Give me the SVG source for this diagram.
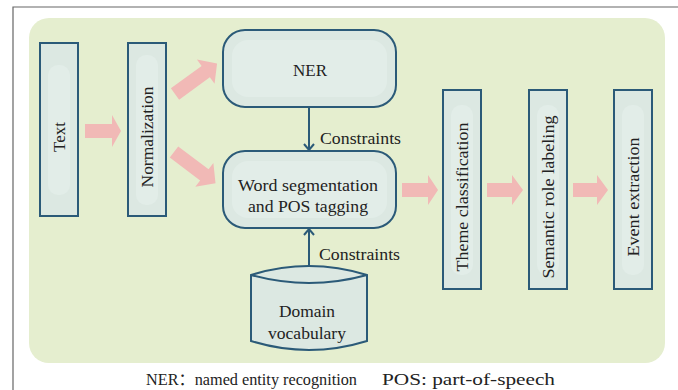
<svg xmlns="http://www.w3.org/2000/svg" width="678" height="390" viewBox="0 0 678 390">
<style>
.box{fill:#dce8e2;stroke:#2b5a78;stroke-width:2}
.inner{fill:#e2ede8}
.pink{fill:#f1b9b6}
.t{font-family:'Liberation Serif','Times New Roman','DejaVu Serif','Noto Sans CJK SC',serif;fill:#222}
.lbl{font-size:17px;text-anchor:middle}
.con{stroke:#2b5a78;stroke-width:2;fill:none}
</style>
<rect x="0" y="0" width="678" height="390" fill="#ffffff"/>
<path d="M13,390 L13,7 L678,7" fill="none" stroke="#666" stroke-width="1.2"/>
<rect x="29" y="18" width="636" height="345" rx="20" fill="#e5eecf"/>

<g id="text">
<rect class="box" x="40" y="43" width="38" height="173"/>
<rect class="inner" x="48" y="65" width="22" height="130" rx="10"/>
<text class="t lbl" transform="translate(65,137) rotate(-90)">Text</text>
</g>
<g id="normalization">
<rect class="box" x="128" y="43" width="38" height="173"/>
<rect class="inner" x="136" y="55" width="22" height="150" rx="10"/>
<text class="t lbl" transform="translate(153,137) rotate(-90)" textLength="101" lengthAdjust="spacingAndGlyphs">Normalization</text>
</g>
<g id="ner">
<rect class="box" x="223" y="30" width="173" height="77" rx="22"/>
<rect class="inner" x="232" y="40" width="155" height="57" rx="16"/>
<text class="t lbl" x="310" y="76" font-size="18">NER</text>
</g>
<g id="wordseg">
<rect class="box" x="223" y="151" width="173" height="77" rx="22"/>
<rect class="inner" x="232" y="161" width="155" height="57" rx="16"/>
<text class="t lbl" x="308" y="191" textLength="140" lengthAdjust="spacingAndGlyphs">Word segmentation</text>
<text class="t lbl" x="308" y="212" textLength="120" lengthAdjust="spacingAndGlyphs">and POS tagging</text>
</g>
<g id="domain">
<path class="box" d="M251,275 Q309,257 367,275 L367,341 Q309,359 251,341 Z"/>
<path d="M251,275 Q309,291 367,275" fill="none" stroke="#2b5a78" stroke-width="2"/>
<text class="t lbl" x="307" y="317" textLength="56" lengthAdjust="spacingAndGlyphs">Domain</text>
<text class="t lbl" x="307" y="339" textLength="78" lengthAdjust="spacingAndGlyphs">vocabulary</text>
</g>
<g id="theme">
<rect class="box" x="443" y="90" width="38" height="199"/>
<rect class="inner" x="451" y="105" width="22" height="170" rx="10"/>
<text class="t lbl" transform="translate(468,197) rotate(-90)" textLength="149" lengthAdjust="spacingAndGlyphs">Theme classification</text>
</g>
<g id="semantic">
<rect class="box" x="529" y="90" width="38" height="199"/>
<rect class="inner" x="537" y="105" width="22" height="170" rx="10"/>
<text class="t lbl" transform="translate(554,197) rotate(-90)" textLength="163" lengthAdjust="spacingAndGlyphs">Semantic role labeling</text>
</g>
<g id="event">
<rect class="box" x="614" y="90" width="38" height="199"/>
<rect class="inner" x="622" y="105" width="22" height="170" rx="10"/>
<text class="t lbl" transform="translate(639,197) rotate(-90)" textLength="119" lengthAdjust="spacingAndGlyphs">Event extraction</text>
</g>

<g id="connectors">
<polygon class="pink" points="85,124 112,124 112,115 121,131 112,147 112,138 85,138"/>
<polygon class="pink" transform="translate(175,94) rotate(-36)" points="0,-7 38,-7 38,-15 52,0 38,15 38,7 0,7"/>
<polygon class="pink" transform="translate(174,152) rotate(37)" points="0,-7 38,-7 38,-15 52,0 38,15 38,7 0,7"/>
<polygon class="pink" points="402,183 428,183 428,175 438,190 428,205 428,197 402,197"/>
<polygon class="pink" points="487,183 512,183 512,175 523,190 512,205 512,197 487,197"/>
<polygon class="pink" points="573,183 597,183 597,175 608,190 597,205 597,197 573,197"/>
<path class="con" d="M309,107 L309,150 M304,144 L309,150 L314,144"/>
<path class="con" d="M309,266 L309,229 M304,235 L309,229 L314,235"/>
<text class="t" x="320" y="144" font-size="16" textLength="81" lengthAdjust="spacingAndGlyphs">Constraints</text>
<text class="t" x="319" y="260" font-size="16" textLength="81" lengthAdjust="spacingAndGlyphs">Constraints</text>
</g>

<text class="t" x="146" y="385" font-size="16" textLength="211" lengthAdjust="spacingAndGlyphs">NER：named entity recognition</text>
<text class="t" x="382" y="385" font-size="16" textLength="173" lengthAdjust="spacingAndGlyphs">POS: part-of-speech</text>
</svg>
